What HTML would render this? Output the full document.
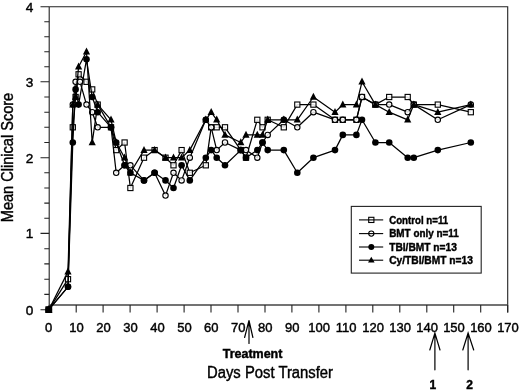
<!DOCTYPE html>
<html><head><meta charset="utf-8"><title>Mean Clinical Score</title>
<style>html,body{margin:0;padding:0;background:#fff}svg{display:block}text{stroke:#000;stroke-width:0.42px;font-family:"Liberation Sans",Arial,Helvetica,sans-serif;fill:#000}</style>
</head><body>
<svg width="520" height="391" viewBox="0 0 520 391">
<rect width="520" height="391" fill="#fff"/>
<g stroke="#222" stroke-width="1.1" fill="none">
<path d="M49.2,6.8H507.7V312.5"/>
<path d="M49.2,6.8V309.7"/>
</g>
<path d="M49.2,305H507.7" stroke="#444" stroke-width="1.3" fill="none"/>
<path d="M40.5,309.7H49.2M44.3,294.4H49.2M44.3,279.2H49.2M44.3,263.9H49.2M44.3,248.7H49.2M40.5,233.4H49.2M44.3,218.3H49.2M44.3,203.1H49.2M44.3,188.0H49.2M44.3,172.8H49.2M40.5,157.7H49.2M44.3,142.5H49.2M44.3,127.3H49.2M44.3,112.2H49.2M44.3,97.0H49.2M40.5,81.8H49.2M44.3,66.8H49.2M44.3,51.8H49.2M44.3,36.8H49.2M44.3,21.8H49.2M40.5,6.8H49.2M49.2,305V312.5M76.2,305V312.5M103.1,305V312.5M130.1,305V312.5M157.1,305V312.5M184.1,305V312.5M211.0,305V312.5M238.0,305V312.5M265.0,305V312.5M291.9,305V312.5M318.9,305V312.5M345.9,305V312.5M372.8,305V312.5M399.8,305V312.5M426.8,305V312.5M453.7,305V312.5M480.7,305V312.5M507.7,305V312.5" stroke="#222" stroke-width="1.1" fill="none"/>
<polyline fill="none" stroke="#000" stroke-width="1.25" stroke-linejoin="round" points="48.8,309.7 68.0,279.2 72.8,127.3 75.6,97.0 78.6,74.3 86.5,81.8 92.2,89.4 97.7,104.6 111.0,127.3 116.2,150.1 124.6,142.5 130.4,188.0 144.0,157.7 154.6,150.1 165.5,157.7 173.5,165.3 181.6,150.1 189.8,172.8 205.8,165.3 211.2,127.3 216.7,127.3 225.0,127.3 240.8,150.1 246.0,157.7 257.3,119.8 262.5,127.3 267.7,119.8 283.8,127.3 297.3,104.6 313.4,104.6 335.0,119.8 342.8,119.8 356.4,119.8 362.0,97.0 375.4,104.6 389.2,97.0 407.7,97.0 413.8,104.6 437.8,104.6 470.8,112.2"/>
<rect x="46.2" y="307.1" width="5.2" height="5.2" fill="#fff" fill-opacity="0.85" stroke="#000" stroke-width="1.1"/>
<rect x="65.4" y="276.6" width="5.2" height="5.2" fill="#fff" fill-opacity="0.85" stroke="#000" stroke-width="1.1"/>
<rect x="70.2" y="124.7" width="5.2" height="5.2" fill="#fff" fill-opacity="0.85" stroke="#000" stroke-width="1.1"/>
<rect x="73.0" y="94.4" width="5.2" height="5.2" fill="#fff" fill-opacity="0.85" stroke="#000" stroke-width="1.1"/>
<rect x="76.0" y="71.7" width="5.2" height="5.2" fill="#fff" fill-opacity="0.85" stroke="#000" stroke-width="1.1"/>
<rect x="83.9" y="79.2" width="5.2" height="5.2" fill="#fff" fill-opacity="0.85" stroke="#000" stroke-width="1.1"/>
<rect x="89.6" y="86.8" width="5.2" height="5.2" fill="#fff" fill-opacity="0.85" stroke="#000" stroke-width="1.1"/>
<rect x="95.1" y="102.0" width="5.2" height="5.2" fill="#fff" fill-opacity="0.85" stroke="#000" stroke-width="1.1"/>
<rect x="108.4" y="124.7" width="5.2" height="5.2" fill="#fff" fill-opacity="0.85" stroke="#000" stroke-width="1.1"/>
<rect x="113.6" y="147.5" width="5.2" height="5.2" fill="#fff" fill-opacity="0.85" stroke="#000" stroke-width="1.1"/>
<rect x="122.0" y="139.9" width="5.2" height="5.2" fill="#fff" fill-opacity="0.85" stroke="#000" stroke-width="1.1"/>
<rect x="127.8" y="185.4" width="5.2" height="5.2" fill="#fff" fill-opacity="0.85" stroke="#000" stroke-width="1.1"/>
<rect x="141.4" y="155.1" width="5.2" height="5.2" fill="#fff" fill-opacity="0.85" stroke="#000" stroke-width="1.1"/>
<rect x="152.0" y="147.5" width="5.2" height="5.2" fill="#fff" fill-opacity="0.85" stroke="#000" stroke-width="1.1"/>
<rect x="162.9" y="155.1" width="5.2" height="5.2" fill="#fff" fill-opacity="0.85" stroke="#000" stroke-width="1.1"/>
<rect x="170.9" y="162.7" width="5.2" height="5.2" fill="#fff" fill-opacity="0.85" stroke="#000" stroke-width="1.1"/>
<rect x="179.0" y="147.5" width="5.2" height="5.2" fill="#fff" fill-opacity="0.85" stroke="#000" stroke-width="1.1"/>
<rect x="187.2" y="170.2" width="5.2" height="5.2" fill="#fff" fill-opacity="0.85" stroke="#000" stroke-width="1.1"/>
<rect x="203.2" y="162.7" width="5.2" height="5.2" fill="#fff" fill-opacity="0.85" stroke="#000" stroke-width="1.1"/>
<rect x="208.6" y="124.7" width="5.2" height="5.2" fill="#fff" fill-opacity="0.85" stroke="#000" stroke-width="1.1"/>
<rect x="214.1" y="124.7" width="5.2" height="5.2" fill="#fff" fill-opacity="0.85" stroke="#000" stroke-width="1.1"/>
<rect x="222.4" y="124.7" width="5.2" height="5.2" fill="#fff" fill-opacity="0.85" stroke="#000" stroke-width="1.1"/>
<rect x="238.2" y="147.5" width="5.2" height="5.2" fill="#fff" fill-opacity="0.85" stroke="#000" stroke-width="1.1"/>
<rect x="243.4" y="155.1" width="5.2" height="5.2" fill="#fff" fill-opacity="0.85" stroke="#000" stroke-width="1.1"/>
<rect x="254.7" y="117.2" width="5.2" height="5.2" fill="#fff" fill-opacity="0.85" stroke="#000" stroke-width="1.1"/>
<rect x="259.9" y="124.7" width="5.2" height="5.2" fill="#fff" fill-opacity="0.85" stroke="#000" stroke-width="1.1"/>
<rect x="265.1" y="117.2" width="5.2" height="5.2" fill="#fff" fill-opacity="0.85" stroke="#000" stroke-width="1.1"/>
<rect x="281.2" y="124.7" width="5.2" height="5.2" fill="#fff" fill-opacity="0.85" stroke="#000" stroke-width="1.1"/>
<rect x="294.7" y="102.0" width="5.2" height="5.2" fill="#fff" fill-opacity="0.85" stroke="#000" stroke-width="1.1"/>
<rect x="310.8" y="102.0" width="5.2" height="5.2" fill="#fff" fill-opacity="0.85" stroke="#000" stroke-width="1.1"/>
<rect x="332.4" y="117.2" width="5.2" height="5.2" fill="#fff" fill-opacity="0.85" stroke="#000" stroke-width="1.1"/>
<rect x="340.2" y="117.2" width="5.2" height="5.2" fill="#fff" fill-opacity="0.85" stroke="#000" stroke-width="1.1"/>
<rect x="353.8" y="117.2" width="5.2" height="5.2" fill="#fff" fill-opacity="0.85" stroke="#000" stroke-width="1.1"/>
<rect x="359.4" y="94.4" width="5.2" height="5.2" fill="#fff" fill-opacity="0.85" stroke="#000" stroke-width="1.1"/>
<rect x="372.8" y="102.0" width="5.2" height="5.2" fill="#fff" fill-opacity="0.85" stroke="#000" stroke-width="1.1"/>
<rect x="386.6" y="94.4" width="5.2" height="5.2" fill="#fff" fill-opacity="0.85" stroke="#000" stroke-width="1.1"/>
<rect x="405.1" y="94.4" width="5.2" height="5.2" fill="#fff" fill-opacity="0.85" stroke="#000" stroke-width="1.1"/>
<rect x="411.2" y="102.0" width="5.2" height="5.2" fill="#fff" fill-opacity="0.85" stroke="#000" stroke-width="1.1"/>
<rect x="435.2" y="102.0" width="5.2" height="5.2" fill="#fff" fill-opacity="0.85" stroke="#000" stroke-width="1.1"/>
<rect x="468.2" y="109.6" width="5.2" height="5.2" fill="#fff" fill-opacity="0.85" stroke="#000" stroke-width="1.1"/>
<polyline fill="none" stroke="#000" stroke-width="1.25" stroke-linejoin="round" points="48.8,309.7 68.0,286.8 72.8,104.6 75.6,81.8 80.0,81.8 86.5,104.6 92.2,112.2 97.7,127.3 111.0,127.3 116.2,172.8 124.6,165.3 130.4,165.3 144.0,180.4 154.6,172.8 165.5,195.6 173.5,172.8 181.6,180.4 189.8,157.7 205.8,119.8 211.2,127.3 216.7,150.1 225.0,142.5 240.8,150.1 246.0,150.1 257.3,157.7 262.5,142.5 267.7,134.9 283.8,119.8 297.3,127.3 313.4,112.2 335.0,119.8 342.8,119.8 356.4,119.8 362.0,97.0 375.4,104.6 389.2,104.6 407.7,112.2 413.8,104.6 437.8,119.8 470.8,104.6"/>
<circle cx="48.8" cy="309.7" r="2.7" fill="#fff" fill-opacity="0.85" stroke="#000" stroke-width="1.1"/>
<circle cx="68.0" cy="286.8" r="2.7" fill="#fff" fill-opacity="0.85" stroke="#000" stroke-width="1.1"/>
<circle cx="72.8" cy="104.6" r="2.7" fill="#fff" fill-opacity="0.85" stroke="#000" stroke-width="1.1"/>
<circle cx="75.6" cy="81.8" r="2.7" fill="#fff" fill-opacity="0.85" stroke="#000" stroke-width="1.1"/>
<circle cx="80.0" cy="81.8" r="2.7" fill="#fff" fill-opacity="0.85" stroke="#000" stroke-width="1.1"/>
<circle cx="86.5" cy="104.6" r="2.7" fill="#fff" fill-opacity="0.85" stroke="#000" stroke-width="1.1"/>
<circle cx="92.2" cy="112.2" r="2.7" fill="#fff" fill-opacity="0.85" stroke="#000" stroke-width="1.1"/>
<circle cx="97.7" cy="127.3" r="2.7" fill="#fff" fill-opacity="0.85" stroke="#000" stroke-width="1.1"/>
<circle cx="111.0" cy="127.3" r="2.7" fill="#fff" fill-opacity="0.85" stroke="#000" stroke-width="1.1"/>
<circle cx="116.2" cy="172.8" r="2.7" fill="#fff" fill-opacity="0.85" stroke="#000" stroke-width="1.1"/>
<circle cx="124.6" cy="165.3" r="2.7" fill="#fff" fill-opacity="0.85" stroke="#000" stroke-width="1.1"/>
<circle cx="130.4" cy="165.3" r="2.7" fill="#fff" fill-opacity="0.85" stroke="#000" stroke-width="1.1"/>
<circle cx="144.0" cy="180.4" r="2.7" fill="#fff" fill-opacity="0.85" stroke="#000" stroke-width="1.1"/>
<circle cx="154.6" cy="172.8" r="2.7" fill="#fff" fill-opacity="0.85" stroke="#000" stroke-width="1.1"/>
<circle cx="165.5" cy="195.6" r="2.7" fill="#fff" fill-opacity="0.85" stroke="#000" stroke-width="1.1"/>
<circle cx="173.5" cy="172.8" r="2.7" fill="#fff" fill-opacity="0.85" stroke="#000" stroke-width="1.1"/>
<circle cx="181.6" cy="180.4" r="2.7" fill="#fff" fill-opacity="0.85" stroke="#000" stroke-width="1.1"/>
<circle cx="189.8" cy="157.7" r="2.7" fill="#fff" fill-opacity="0.85" stroke="#000" stroke-width="1.1"/>
<circle cx="205.8" cy="119.8" r="2.7" fill="#fff" fill-opacity="0.85" stroke="#000" stroke-width="1.1"/>
<circle cx="211.2" cy="127.3" r="2.7" fill="#fff" fill-opacity="0.85" stroke="#000" stroke-width="1.1"/>
<circle cx="216.7" cy="150.1" r="2.7" fill="#fff" fill-opacity="0.85" stroke="#000" stroke-width="1.1"/>
<circle cx="225.0" cy="142.5" r="2.7" fill="#fff" fill-opacity="0.85" stroke="#000" stroke-width="1.1"/>
<circle cx="240.8" cy="150.1" r="2.7" fill="#fff" fill-opacity="0.85" stroke="#000" stroke-width="1.1"/>
<circle cx="246.0" cy="150.1" r="2.7" fill="#fff" fill-opacity="0.85" stroke="#000" stroke-width="1.1"/>
<circle cx="257.3" cy="157.7" r="2.7" fill="#fff" fill-opacity="0.85" stroke="#000" stroke-width="1.1"/>
<circle cx="262.5" cy="142.5" r="2.7" fill="#fff" fill-opacity="0.85" stroke="#000" stroke-width="1.1"/>
<circle cx="267.7" cy="134.9" r="2.7" fill="#fff" fill-opacity="0.85" stroke="#000" stroke-width="1.1"/>
<circle cx="283.8" cy="119.8" r="2.7" fill="#fff" fill-opacity="0.85" stroke="#000" stroke-width="1.1"/>
<circle cx="297.3" cy="127.3" r="2.7" fill="#fff" fill-opacity="0.85" stroke="#000" stroke-width="1.1"/>
<circle cx="313.4" cy="112.2" r="2.7" fill="#fff" fill-opacity="0.85" stroke="#000" stroke-width="1.1"/>
<circle cx="335.0" cy="119.8" r="2.7" fill="#fff" fill-opacity="0.85" stroke="#000" stroke-width="1.1"/>
<circle cx="342.8" cy="119.8" r="2.7" fill="#fff" fill-opacity="0.85" stroke="#000" stroke-width="1.1"/>
<circle cx="356.4" cy="119.8" r="2.7" fill="#fff" fill-opacity="0.85" stroke="#000" stroke-width="1.1"/>
<circle cx="362.0" cy="97.0" r="2.7" fill="#fff" fill-opacity="0.85" stroke="#000" stroke-width="1.1"/>
<circle cx="375.4" cy="104.6" r="2.7" fill="#fff" fill-opacity="0.85" stroke="#000" stroke-width="1.1"/>
<circle cx="389.2" cy="104.6" r="2.7" fill="#fff" fill-opacity="0.85" stroke="#000" stroke-width="1.1"/>
<circle cx="407.7" cy="112.2" r="2.7" fill="#fff" fill-opacity="0.85" stroke="#000" stroke-width="1.1"/>
<circle cx="413.8" cy="104.6" r="2.7" fill="#fff" fill-opacity="0.85" stroke="#000" stroke-width="1.1"/>
<circle cx="437.8" cy="119.8" r="2.7" fill="#fff" fill-opacity="0.85" stroke="#000" stroke-width="1.1"/>
<circle cx="470.8" cy="104.6" r="2.7" fill="#fff" fill-opacity="0.85" stroke="#000" stroke-width="1.1"/>
<polyline fill="none" stroke="#000" stroke-width="1.25" stroke-linejoin="round" points="48.8,309.7 68.0,286.8 72.8,142.5 75.6,89.4 78.6,104.6 86.5,59.3 92.2,97.0 97.7,112.2 111.0,127.3 116.2,142.5 124.6,165.3 130.4,172.8 144.0,180.4 154.6,172.8 165.5,180.4 173.5,188.0 181.6,165.3 189.8,180.4 205.8,157.7 211.2,150.1 216.7,157.7 225.0,165.3 240.8,150.1 246.0,157.7 257.3,150.1 262.5,142.5 267.7,150.1 283.8,150.1 297.3,172.8 313.4,157.7 335.0,150.1 342.8,134.9 356.4,134.9 362.0,119.8 375.4,142.5 389.2,142.5 407.7,157.7 413.8,157.7 437.8,150.1 470.8,142.5"/>
<circle cx="48.8" cy="309.7" r="3.3" fill="#000"/>
<circle cx="68.0" cy="286.8" r="3.3" fill="#000"/>
<circle cx="72.8" cy="142.5" r="3.3" fill="#000"/>
<circle cx="75.6" cy="89.4" r="3.3" fill="#000"/>
<circle cx="78.6" cy="104.6" r="3.3" fill="#000"/>
<circle cx="86.5" cy="59.3" r="3.3" fill="#000"/>
<circle cx="92.2" cy="97.0" r="3.3" fill="#000"/>
<circle cx="97.7" cy="112.2" r="3.3" fill="#000"/>
<circle cx="111.0" cy="127.3" r="3.3" fill="#000"/>
<circle cx="116.2" cy="142.5" r="3.3" fill="#000"/>
<circle cx="124.6" cy="165.3" r="3.3" fill="#000"/>
<circle cx="130.4" cy="172.8" r="3.3" fill="#000"/>
<circle cx="144.0" cy="180.4" r="3.3" fill="#000"/>
<circle cx="154.6" cy="172.8" r="3.3" fill="#000"/>
<circle cx="165.5" cy="180.4" r="3.3" fill="#000"/>
<circle cx="173.5" cy="188.0" r="3.3" fill="#000"/>
<circle cx="181.6" cy="165.3" r="3.3" fill="#000"/>
<circle cx="189.8" cy="180.4" r="3.3" fill="#000"/>
<circle cx="205.8" cy="157.7" r="3.3" fill="#000"/>
<circle cx="211.2" cy="150.1" r="3.3" fill="#000"/>
<circle cx="216.7" cy="157.7" r="3.3" fill="#000"/>
<circle cx="225.0" cy="165.3" r="3.3" fill="#000"/>
<circle cx="240.8" cy="150.1" r="3.3" fill="#000"/>
<circle cx="246.0" cy="157.7" r="3.3" fill="#000"/>
<circle cx="257.3" cy="150.1" r="3.3" fill="#000"/>
<circle cx="262.5" cy="142.5" r="3.3" fill="#000"/>
<circle cx="267.7" cy="150.1" r="3.3" fill="#000"/>
<circle cx="283.8" cy="150.1" r="3.3" fill="#000"/>
<circle cx="297.3" cy="172.8" r="3.3" fill="#000"/>
<circle cx="313.4" cy="157.7" r="3.3" fill="#000"/>
<circle cx="335.0" cy="150.1" r="3.3" fill="#000"/>
<circle cx="342.8" cy="134.9" r="3.3" fill="#000"/>
<circle cx="356.4" cy="134.9" r="3.3" fill="#000"/>
<circle cx="362.0" cy="119.8" r="3.3" fill="#000"/>
<circle cx="375.4" cy="142.5" r="3.3" fill="#000"/>
<circle cx="389.2" cy="142.5" r="3.3" fill="#000"/>
<circle cx="407.7" cy="157.7" r="3.3" fill="#000"/>
<circle cx="413.8" cy="157.7" r="3.3" fill="#000"/>
<circle cx="437.8" cy="150.1" r="3.3" fill="#000"/>
<circle cx="470.8" cy="142.5" r="3.3" fill="#000"/>
<polyline fill="none" stroke="#000" stroke-width="1.25" stroke-linejoin="round" points="48.8,309.7 68.0,271.6 72.8,104.6 75.6,97.0 78.6,66.8 86.5,51.8 92.2,142.5 97.7,104.6 111.0,119.8 116.2,142.5 124.6,157.7 130.4,172.8 144.0,150.1 154.6,150.1 165.5,157.7 173.5,157.7 181.6,157.7 189.8,150.1 205.8,119.8 211.2,112.2 216.7,119.8 225.0,134.9 240.8,142.5 246.0,134.9 257.3,134.9 262.5,134.9 267.7,119.8 283.8,119.8 297.3,119.8 313.4,97.0 335.0,112.2 342.8,104.6 356.4,104.6 362.0,81.8 375.4,104.6 389.2,112.2 407.7,119.8 413.8,104.6 437.8,112.2 470.8,104.6"/>
<polygon points="48.8,305.5 45.2,312.5 52.4,312.5" fill="#000"/>
<polygon points="68.0,267.4 64.4,274.4 71.6,274.4" fill="#000"/>
<polygon points="72.8,100.4 69.2,107.4 76.4,107.4" fill="#000"/>
<polygon points="75.6,92.8 72.0,99.8 79.2,99.8" fill="#000"/>
<polygon points="78.6,62.6 75.0,69.6 82.2,69.6" fill="#000"/>
<polygon points="86.5,47.6 82.9,54.6 90.1,54.6" fill="#000"/>
<polygon points="92.2,138.3 88.6,145.3 95.8,145.3" fill="#000"/>
<polygon points="97.7,100.4 94.1,107.4 101.3,107.4" fill="#000"/>
<polygon points="111.0,115.5 107.4,122.5 114.6,122.5" fill="#000"/>
<polygon points="116.2,138.3 112.6,145.3 119.8,145.3" fill="#000"/>
<polygon points="124.6,153.5 121.0,160.5 128.2,160.5" fill="#000"/>
<polygon points="130.4,168.6 126.8,175.6 134.0,175.6" fill="#000"/>
<polygon points="144.0,145.9 140.4,152.9 147.6,152.9" fill="#000"/>
<polygon points="154.6,145.9 151.0,152.9 158.2,152.9" fill="#000"/>
<polygon points="165.5,153.5 161.9,160.5 169.1,160.5" fill="#000"/>
<polygon points="173.5,153.5 169.9,160.5 177.1,160.5" fill="#000"/>
<polygon points="181.6,153.5 178.0,160.5 185.2,160.5" fill="#000"/>
<polygon points="189.8,145.9 186.2,152.9 193.4,152.9" fill="#000"/>
<polygon points="205.8,115.5 202.2,122.5 209.4,122.5" fill="#000"/>
<polygon points="211.2,108.0 207.6,115.0 214.8,115.0" fill="#000"/>
<polygon points="216.7,115.5 213.1,122.5 220.3,122.5" fill="#000"/>
<polygon points="225.0,130.7 221.4,137.7 228.6,137.7" fill="#000"/>
<polygon points="240.8,138.3 237.2,145.3 244.4,145.3" fill="#000"/>
<polygon points="246.0,130.7 242.4,137.7 249.6,137.7" fill="#000"/>
<polygon points="257.3,130.7 253.7,137.7 260.9,137.7" fill="#000"/>
<polygon points="262.5,130.7 258.9,137.7 266.1,137.7" fill="#000"/>
<polygon points="267.7,115.5 264.1,122.5 271.3,122.5" fill="#000"/>
<polygon points="283.8,115.5 280.2,122.5 287.4,122.5" fill="#000"/>
<polygon points="297.3,115.5 293.7,122.5 300.9,122.5" fill="#000"/>
<polygon points="313.4,92.8 309.8,99.8 317.0,99.8" fill="#000"/>
<polygon points="335.0,108.0 331.4,115.0 338.6,115.0" fill="#000"/>
<polygon points="342.8,100.4 339.2,107.4 346.4,107.4" fill="#000"/>
<polygon points="356.4,100.4 352.8,107.4 360.0,107.4" fill="#000"/>
<polygon points="362.0,77.6 358.4,84.6 365.6,84.6" fill="#000"/>
<polygon points="375.4,100.4 371.8,107.4 379.0,107.4" fill="#000"/>
<polygon points="389.2,108.0 385.6,115.0 392.8,115.0" fill="#000"/>
<polygon points="407.7,115.5 404.1,122.5 411.3,122.5" fill="#000"/>
<polygon points="413.8,100.4 410.2,107.4 417.4,107.4" fill="#000"/>
<polygon points="437.8,108.0 434.2,115.0 441.4,115.0" fill="#000"/>
<polygon points="470.8,100.4 467.2,107.4 474.4,107.4" fill="#000"/>
<rect x="45.4" y="306.4" width="6.8" height="6.6" fill="#000"/>
<circle cx="205.8" cy="119.8" r="3.1" fill="#000"/>
<circle cx="283.8" cy="119.8" r="3.0" fill="#000"/>
<rect x="351.3" y="206.4" width="129.9" height="66.7" fill="#fff" stroke="#222" stroke-width="1.1"/>
<path d="M359,219.9H383.2" stroke="#000" stroke-width="1.1"/>
<rect x="368.7" y="217.3" width="5.2" height="5.2" fill="#fff" fill-opacity="0" stroke="#000" stroke-width="1.1"/>
<text x="389.2" y="223.7" font-size="10.7" font-weight="bold" stroke-width="0.15" textLength="59.0" lengthAdjust="spacingAndGlyphs">Control n=11</text>
<path d="M359,233.6H383.2" stroke="#000" stroke-width="1.1"/>
<circle cx="371.3" cy="233.6" r="2.6" fill="#fff" fill-opacity="0" stroke="#000" stroke-width="1.1"/>
<text x="389.2" y="237.4" font-size="10.7" font-weight="bold" stroke-width="0.15" textLength="69.6" lengthAdjust="spacingAndGlyphs">BMT only n=11</text>
<path d="M359,247.0H383.2" stroke="#000" stroke-width="1.1"/>
<circle cx="371.3" cy="247.0" r="3.0" fill="#000"/>
<text x="389.2" y="250.8" font-size="10.7" font-weight="bold" stroke-width="0.15" textLength="67.7" lengthAdjust="spacingAndGlyphs">TBI/BMT n=13</text>
<path d="M359,260.2H383.2" stroke="#000" stroke-width="1.1"/>
<polygon points="371.3,256.8 368.0,262.4 374.6,262.4" fill="#000"/>
<text x="389.2" y="264.0" font-size="10.7" font-weight="bold" stroke-width="0.15" textLength="83.7" lengthAdjust="spacingAndGlyphs">Cy/TBI/BMT n=13</text>
<text x="48.6" y="332" font-size="13" text-anchor="middle">0</text>
<text x="76.5" y="332" font-size="13" text-anchor="middle">10</text>
<text x="103.4" y="332" font-size="13" text-anchor="middle">20</text>
<text x="130.4" y="332" font-size="13" text-anchor="middle">30</text>
<text x="157.4" y="332" font-size="13" text-anchor="middle">40</text>
<text x="184.4" y="332" font-size="13" text-anchor="middle">50</text>
<text x="211.3" y="332" font-size="13" text-anchor="middle">60</text>
<text x="238.3" y="332" font-size="13" text-anchor="middle">70</text>
<text x="265.3" y="332" font-size="13" text-anchor="middle">80</text>
<text x="292.2" y="332" font-size="13" text-anchor="middle">90</text>
<text x="319.2" y="332" font-size="13" text-anchor="middle">100</text>
<text x="346.2" y="332" font-size="13" text-anchor="middle">110</text>
<text x="373.1" y="332" font-size="13" text-anchor="middle">120</text>
<text x="400.1" y="332" font-size="13" text-anchor="middle">130</text>
<text x="427.1" y="332" font-size="13" text-anchor="middle">140</text>
<text x="454.0" y="332" font-size="13" text-anchor="middle">150</text>
<text x="481.0" y="332" font-size="13" text-anchor="middle">160</text>
<text x="508.0" y="332" font-size="13" text-anchor="middle">170</text>
<text x="33.3" y="314.7" font-size="13.6" text-anchor="end">0</text>
<text x="33.3" y="238.4" font-size="13.6" text-anchor="end">1</text>
<text x="33.3" y="162.7" font-size="13.6" text-anchor="end">2</text>
<text x="33.3" y="86.8" font-size="13.6" text-anchor="end">3</text>
<text x="33.3" y="11.8" font-size="13.6" text-anchor="end">4</text>
<text x="207" y="377.5" font-size="15.6" textLength="126" lengthAdjust="spacingAndGlyphs">Days Post Transfer</text>
<text transform="translate(13.3,222.2) rotate(-90)" font-size="15.9" textLength="129.4" lengthAdjust="spacingAndGlyphs">Mean Clinical Score</text>
<text x="222.7" y="358" font-size="12.3" font-weight="bold" stroke-width="0.15" textLength="59.7" lengthAdjust="spacingAndGlyphs">Treatment</text>
<text x="432.8" y="389" font-size="12" font-weight="bold" stroke-width="0.15" text-anchor="middle">1</text>
<text x="469.6" y="389" font-size="12" font-weight="bold" stroke-width="0.15" text-anchor="middle">2</text>
<g stroke="#000" stroke-width="1.2" fill="none" stroke-linecap="round">
<path d="M249,320.5V343.4M244.6,337.5L249,320.5L252.9,337.5"/>
<path d="M434.9,333V369.8M429.8,350L434.9,333L440,350"/>
<path d="M468.1,333V369.8M462.8,350L468.1,333L473.7,350"/>
</g>
</svg>
</body></html>
